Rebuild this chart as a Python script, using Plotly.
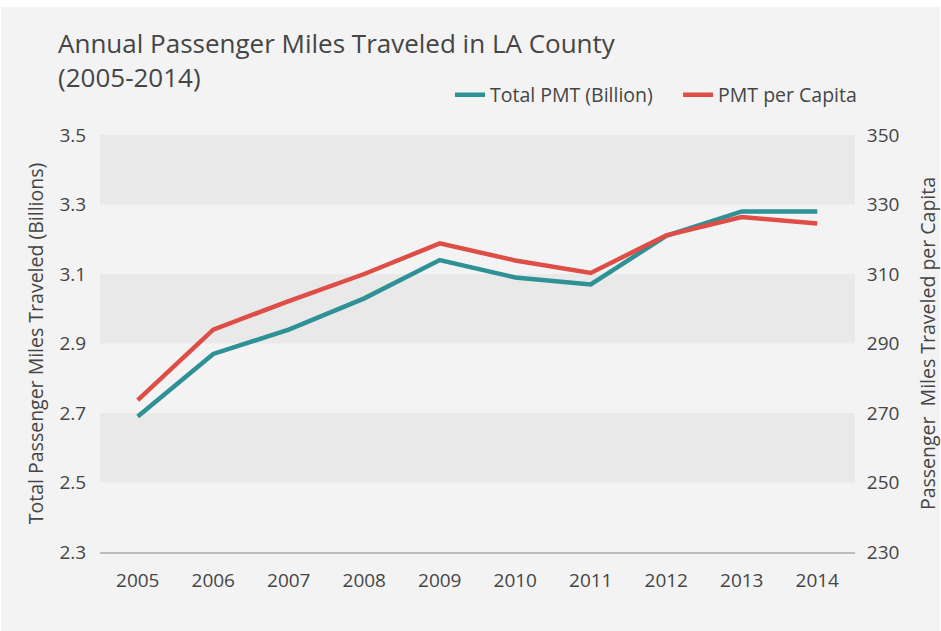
import plotly.graph_objects as go

years = ["2005", "2006", "2007", "2008", "2009", "2010", "2011", "2012", "2013", "2014"]
total_pmt = [2.69, 2.87, 2.94, 3.03, 3.14, 3.09, 3.07, 3.21, 3.28, 3.28]
pmt_per_capita = [273.7, 294.0, 302.2, 310.0, 318.8, 313.9, 310.3, 321.1, 326.4, 324.5]
left_ticks = [2.3, 2.5, 2.7, 2.9, 3.1, 3.3, 3.5]
right_ticks = [230, 250, 270, 290, 310, 330, 350]
bands = [(2.5, 2.7), (2.9, 3.1), (3.3, 3.5)]
title_text = "Annual Passenger Miles Traveled in LA County<br>(2005-2014)"

TEAL = "#2e9196"
RED = "#de4e46"
TXT = "#454545"
BG = "#f3f3f3"
FONT = "Open Sans"


def py(px):
    # pixel y (from top) -> paper y
    return 1 + (135 - px) / 417


def pxx(px):
    return (px - 100) / 755


fig = go.Figure()
fig.add_trace(go.Scatter(x=years, y=total_pmt, mode="lines",
                         name="Total PMT (Billion)" + "\u00a0" * 4,
                         line=dict(color=TEAL, width=4.5), yaxis="y"))
fig.add_trace(go.Scatter(x=years, y=pmt_per_capita, mode="lines", name="PMT per Capita",
                         line=dict(color=RED, width=4.5), yaxis="y2"))

shapes = [dict(type="rect", xref="paper", yref="paper", x0=pxx(1), x1=pxx(940), y0=-0.25, y1=py(7),
               fillcolor=BG, line=dict(width=0), layer="below")]
for lo, hi in bands:
    shapes.append(dict(type="rect", xref="paper", yref="y", x0=0, x1=1, y0=lo, y1=hi,
                       fillcolor="#e9e9e9", line=dict(width=0), layer="below"))

annotations = [dict(text=title_text, xref="paper", yref="paper", x=pxx(56), y=py(23),
                    xanchor="left", yanchor="top", align="left", showarrow=False,
                    font=dict(size=26, color=TXT, family=FONT))]

fig.update_layout(
    width=941, height=631,
    margin=dict(l=100, r=86, t=135, b=79, autoexpand=False),
    paper_bgcolor="white",
    plot_bgcolor="rgba(0,0,0,0)",
    font=dict(family=FONT, color=TXT, size=19),
    shapes=shapes,
    showlegend=True,
    legend=dict(orientation="h", x=pxx(862), xanchor="right", y=py(95), yanchor="middle",
                bgcolor="rgba(0,0,0,0)", font=dict(size=19.5, color=TXT), itemwidth=30,
                traceorder="normal"),
    annotations=annotations,
    xaxis=dict(type="category", range=[-0.5, 9.5], showgrid=False, zeroline=False, showline=True,
               linecolor="#bcbcbc", linewidth=2, ticks="outside", ticklen=10, automargin=False,
               tickcolor="rgba(0,0,0,0)", tickfont=dict(size=19, color=TXT)),
    yaxis=dict(range=[2.3, 3.5], tickvals=left_ticks, ticktext=[f"{v:.1f}" for v in left_ticks],
               showgrid=False, zeroline=False, ticks="outside", ticklen=9, automargin=False,
               tickcolor="rgba(0,0,0,0)", tickfont=dict(size=19, color=TXT),
               title=dict(text="Total Passenger Miles Traveled (Billions)", standoff=10,
                          font=dict(size=19.5, color=TXT))),
    yaxis2=dict(range=[230, 350], tickvals=right_ticks, overlaying="y", side="right",
                showgrid=False, zeroline=False, ticks="outside", ticklen=7, automargin=False,
                tickcolor="rgba(0,0,0,0)", tickfont=dict(size=19, color=TXT),
                title=dict(text="Passenger\u00a0 Miles Traveled per Capita", standoff=25,
                           font=dict(size=19.5, color=TXT))),
)

fig.write_html("out.html", config={"displayModeBar": False},
               post_script="document.body.style.margin='0';")
